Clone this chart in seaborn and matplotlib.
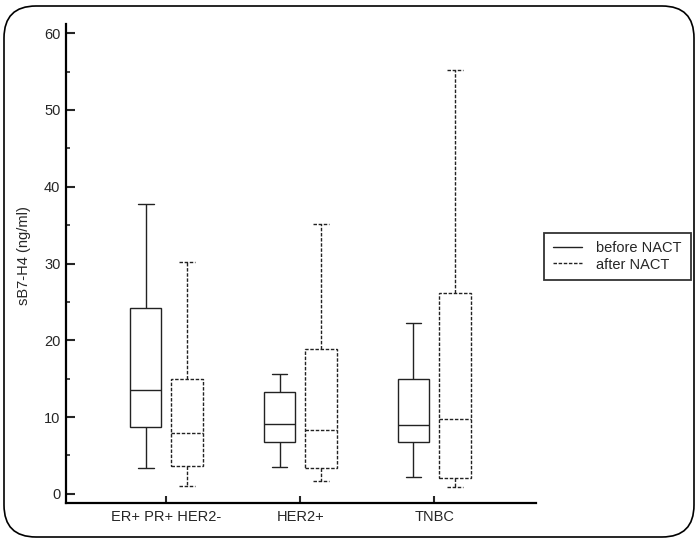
import numpy as np
import pandas as pd
import matplotlib
matplotlib.use('Agg')
import matplotlib.pyplot as plt
import seaborn as sns
from matplotlib.lines import Line2D
from matplotlib.patches import FancyBboxPatch
from matplotlib.transforms import IdentityTransform
from matplotlib.ticker import MultipleLocator

subtypes = ['ER+ PR+ HER2-', 'HER2+', 'TNBC']
periods = ['before NACT', 'after NACT']
# five-number summaries: min, q1, median, q3, max
before_nact = [[3.3, 8.7, 13.5, 24.2, 37.7],
               [3.5, 6.8, 9.1, 13.2, 15.6],
               [2.2, 6.8, 8.9, 14.9, 22.3]]
after_nact = [[1.0, 3.6, 7.9, 15.0, 30.2],
              [1.7, 3.3, 8.3, 18.9, 35.1],
              [0.9, 2.0, 9.7, 26.2, 55.2]]

rows = []
for period, summaries in zip(periods, [before_nact, after_nact]):
    for subtype, vals in zip(subtypes, summaries):
        for v in vals:
            rows.append({'subtype': subtype, 'period': period, 'value': v})
df = pd.DataFrame(rows)

sns.set_style('ticks')
plt.rcParams['font.family'] = ['Liberation Sans', 'DejaVu Sans']

fig = plt.figure(figsize=(6.97, 5.39), dpi=100)
ax = fig.add_axes([66/697, 1-503/539, (536-66)/697, (503-24)/539])

ink = '#222222'
sns.boxplot(data=df, x='subtype', y='value', hue='period', order=subtypes,
            hue_order=periods, whis=(0, 100), width=0.62, gap=0.24,
            palette={'before NACT': 'white', 'after NACT': 'white'},
            linecolor=ink, linewidth=1.0, showfliers=False, legend=False, ax=ax)

# dashed outline for the "after" boxes
dash = (0, (2.5, 1.2))
cont = ax.containers[1]
for art in list(cont.boxes) + list(cont.whiskers) + list(cont.caps) + list(cont.medians):
    art.set_linestyle(dash)

ax.set_xlim(-0.75, 2.76)
ax.set_ylim(-1.2, 61.2)
ax.yaxis.set_major_locator(MultipleLocator(10))
ax.yaxis.set_minor_locator(MultipleLocator(5))
sns.despine(ax=ax)
for s in ['left', 'bottom']:
    ax.spines[s].set_linewidth(1.6)
    ax.spines[s].set_color('black')
ax.tick_params(axis='y', which='major', direction='in', length=6.5, width=1.5,
               labelsize=10.5, pad=4)
ax.tick_params(axis='y', which='minor', direction='in', length=3, width=1.2)
ax.tick_params(axis='x', direction='in', length=5, width=1.5, labelsize=10.5, pad=5)
ax.set_xlabel('')
ax.set_ylabel('sB7-H4 (ng/ml)', fontsize=10.5)
ax.yaxis.set_label_coords(-0.075, 0.516)

handles = [Line2D([], [], color=ink, lw=1.0),
           Line2D([], [], color=ink, lw=1.0, linestyle=dash)]
leg = fig.legend(handles, periods, loc='center left',
                 bbox_to_anchor=(544/697, 1-256.5/539), fontsize=10.5,
                 frameon=True, fancybox=False, handlelength=2.0,
                 handletextpad=1.0, borderpad=0.6, labelspacing=0.15,
                 borderaxespad=0)
leg.get_frame().set_edgecolor('black')
leg.get_frame().set_linewidth(1.3)

# rounded outer frame
frame = FancyBboxPatch((4, 2), 690, 531, boxstyle='round,pad=0,rounding_size=32',
                       transform=IdentityTransform(), fill=False,
                       edgecolor='black', linewidth=1.2)
fig.patches.append(frame)

fig.savefig('out.png', dpi=100)
